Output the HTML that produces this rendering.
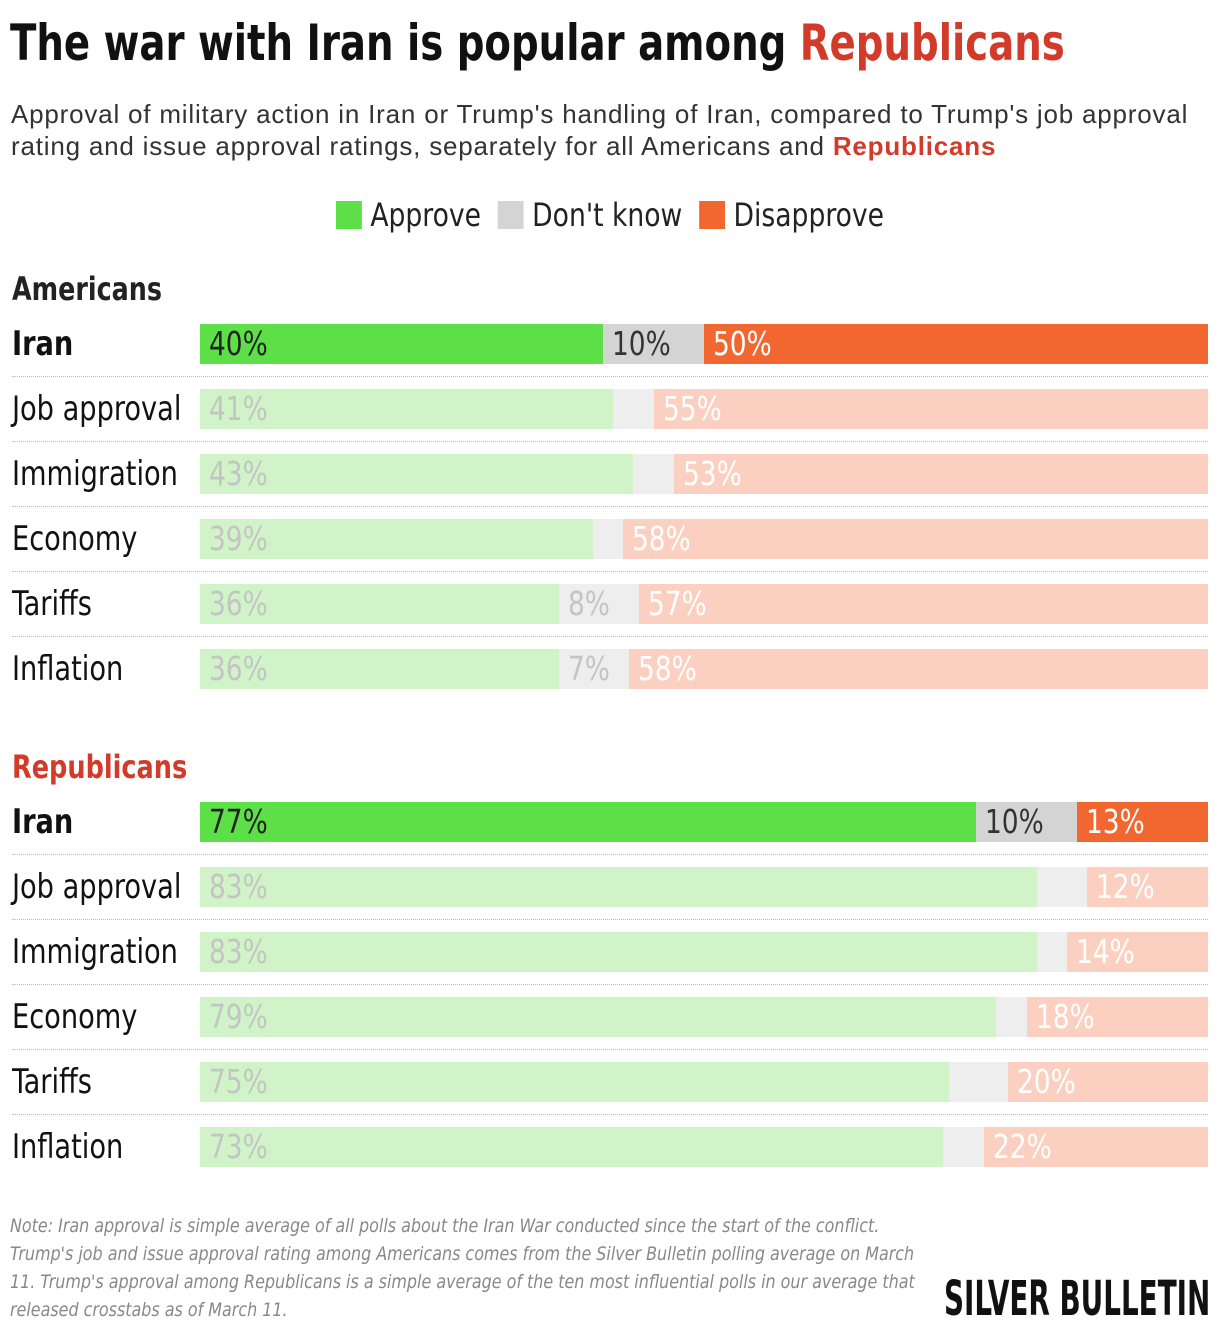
<!DOCTYPE html>
<html><head><meta charset="utf-8">
<style>
body{margin:0;background:#fff;width:1220px;height:1332px;overflow:hidden;position:relative;font-family:"Liberation Sans Narrow","DejaVu Sans Condensed","Liberation Sans",sans-serif;}
.t{position:absolute;white-space:nowrap;transform-origin:left top;}
.red{color:#d23a2a;}
.sq{display:inline-block;width:28px;height:28px;vertical-align:-3px}
</style></head><body>
<div class="t fit" data-w="1055" style="left:10px;top:14px;font-size:50px;font-weight:bold;color:#111;">The war with Iran is popular among <span class="red">Republicans</span></div>
<div class="t" style="left:11px;top:98px;font-size:26px;line-height:32px;color:#333;font-family:'Liberation Sans',sans-serif;letter-spacing:0.8px">Approval of military action in Iran or Trump's handling of Iran, compared to Trump's job approval<br>rating and issue approval ratings, separately for all Americans and <b class="red">Republicans</b></div>
<div class="t fit" data-w="548" style="left:336px;top:196px;font-size:32px;color:#222;">
<span><span class="sq" style="background:#5ddf48"></span> Approve</span>&nbsp;
<span><span class="sq" style="background:#d4d4d4"></span> Don't know</span>&nbsp;
<span><span class="sq" style="background:#f2662f"></span> Disapprove</span>
</div>
<div id="chart"></div>
<div class="t fit" data-w="905" style="left:10px;top:1212px;font-size:19px;line-height:28px;color:#888;font-style:italic">Note: Iran approval is simple average of all polls about the Iran War conducted since the start of the conflict.<br>Trump's job and issue approval rating among Americans comes from the Silver Bulletin polling average on March<br>11. Trump's approval among Republicans is a simple average of the ten most influential polls in our average that<br>released crosstabs as of March 11.</div>
<div class="t fit" data-w="266" style="left:944px;top:1274px;font-size:48px;line-height:50px;font-weight:bold;color:#111;">SILVER BULLETIN</div>
<script>
const categories=["Iran","Job approval","Immigration","Economy","Tariffs","Inflation"];
const amApprove=[40,41,43,39,36,36];
const amDontKnow=[10,4,4,3,8,7];
const amDisapprove=[50,55,53,58,57,58];
const repApprove=[77,83,83,79,75,73];
const repDontKnow=[10,5,3,3,6,4];
const repDisapprove=[13,12,14,18,20,22];
const groups=[
 {name:"Americans",top:270,red:false,hw:150,a:amApprove,k:amDontKnow,d:amDisapprove},
 {name:"Republicans",top:748,red:true,hw:175,a:repApprove,k:repDontKnow,d:repDisapprove}
];
const X0=200,W=1008;
const c=document.getElementById('chart');
function mk(tag,css,parent){const e=document.createElement(tag);e.style.cssText=css;(parent||c).appendChild(e);return e;}
groups.forEach((g,gi)=>{
 const h=mk('div','position:absolute;white-space:nowrap;transform-origin:left top;left:12px;top:'+g.top+'px;font-size:32px;font-weight:bold;color:'+(g.red?'#d23a2a':'#222'));
 h.textContent=g.name;
 h.className='fit';
 h.dataset.w=g.hw;
 
 
 categories.forEach((cat,i)=>{
  const y=g.top+54+i*65;
  const main=i===0;
  const lab=mk('div','position:absolute;white-space:nowrap;transform-origin:left top;transform:scaleX(0.89);left:12px;top:'+(y-2)+'px;font-size:34px;line-height:44px;color:#111;'+(main?'font-weight:bold':''));
  lab.textContent=cat;
  
  
  if(i>0){const s=mk('div','position:absolute;left:12px;width:1196px;top:'+(y-13)+'px;border-top:1px dotted #bbb');
   
   }
  const tot=g.a[i]+g.k[i]+g.d[i];
  const segs=[[g.a[i],main?'#5ddf48':'#d0f4c8',main?'#222':'#c4c4c4'],[g.k[i],main?'#d4d4d4':'#eeeeee',main?'#333':'#c4c4c4'],[g.d[i],main?'#f2662f':'#fbd0c0','#fff']];
  let acc=0;
  ['approve','dont-know','disapprove'].forEach((nm,j)=>{
   const v=segs[j][0];
   const x=X0+acc/tot*W, w=v/tot*W; acc+=v;
   const b=mk('div','position:absolute;left:'+x+'px;top:'+y+'px;width:'+w+'px;height:40px;background:'+segs[j][1]+';color:'+segs[j][2]+';font-size:33px;line-height:40px;padding-left:9px;box-sizing:border-box;overflow:visible;white-space:nowrap');
   
   
   if(j!==1||v>=7){
    const sp=mk('span','display:inline-block;transform:scaleX(0.89);transform-origin:left center',b);
    sp.textContent=v+'%';
   }
  });
 });
});
document.querySelectorAll('.fit').forEach(el=>{
 const w=el.offsetWidth;
 el.style.transform='scaleX('+(parseFloat(el.dataset.w)/w)+')';
});
</script>
</body></html>
